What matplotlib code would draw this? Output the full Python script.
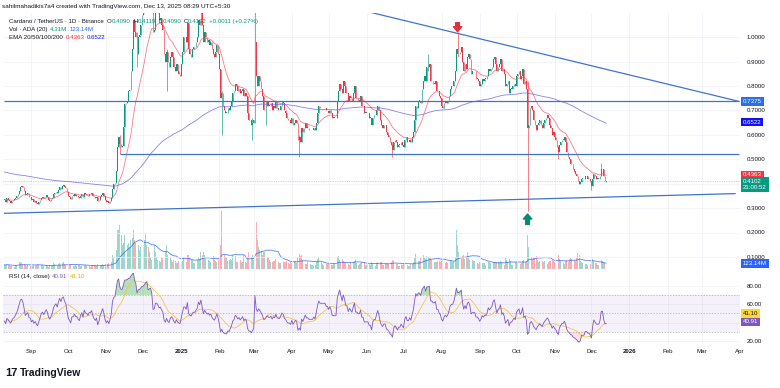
import matplotlib

matplotlib.use("Agg")
import matplotlib.dates as mdates
import matplotlib.pyplot as plt
import numpy as np
import pandas as pd

plt.rcParams["font.family"] = ["Liberation Sans", "DejaVu Sans"]

# daily closes, ADA/USDT (Binance)
c_2024_08 = [0.335, 0.325, 0.340, 0.335, 0.328, 0.322, 0.328, 0.334, 0.336, 0.342, 0.348, 0.358, 0.372, 0.388, 0.392,
             0.386, 0.372, 0.352, 0.356, 0.360, 0.346, 0.344]
c_2024_09 = [0.332, 0.336, 0.326, 0.330, 0.322, 0.316, 0.324, 0.332, 0.342, 0.346, 0.340, 0.346, 0.352, 0.346, 0.334,
             0.330, 0.336, 0.342, 0.356, 0.362, 0.366, 0.360, 0.374, 0.386, 0.380, 0.392, 0.396, 0.388, 0.384, 0.368]
c_2024_10 = [0.350, 0.344, 0.336, 0.350, 0.350, 0.356, 0.350, 0.350, 0.344, 0.340, 0.350, 0.356, 0.346, 0.362, 0.356,
             0.354, 0.350, 0.356, 0.356, 0.360, 0.350, 0.344, 0.340, 0.344, 0.328, 0.334, 0.346, 0.352, 0.360, 0.350,
             0.334]
c_2024_11 = [0.326, 0.330, 0.322, 0.330, 0.342, 0.380, 0.398, 0.402, 0.452, 0.552, 0.592, 0.562, 0.552, 0.556, 0.632,
             0.728, 0.730, 0.740, 0.780, 0.782, 0.860, 0.950, 1.070, 1.020, 1.000, 0.930, 1.000, 1.010, 1.050, 1.090]
c_2024_12 = [1.100, 1.140, 1.200, 1.240, 1.180, 1.200, 1.220, 1.180, 1.020, 1.030, 1.120, 1.120, 1.100, 1.070, 1.080,
             1.050, 1.030, 0.930, 0.900, 0.940, 0.900, 0.880, 0.920, 0.940, 0.920, 0.880, 0.860, 0.890, 0.860, 0.850,
             0.840]
c_2025_01 = [0.890, 0.940, 1.000, 1.000, 0.980, 1.060, 0.950, 0.930, 0.920, 0.950, 0.960, 0.960, 0.980, 1.000, 1.070,
             1.050, 1.110, 1.050, 0.980, 1.020, 1.000, 0.980, 0.990, 0.970, 0.980, 0.950, 0.930, 0.920, 0.940, 0.970,
             0.930]
c_2025_02 = [0.870, 0.750, 0.770, 0.720, 0.700, 0.690, 0.690, 0.710, 0.700, 0.720, 0.740, 0.770, 0.780, 0.810, 0.800,
             0.780, 0.790, 0.770, 0.780, 0.790, 0.760, 0.770, 0.760, 0.690, 0.660, 0.660, 0.640, 0.650]
c_2025_03 = [0.660, 0.980, 0.840, 0.800, 0.840, 0.820, 0.790, 0.760, 0.700, 0.700, 0.720, 0.740, 0.720, 0.720, 0.730,
             0.700, 0.720, 0.710, 0.740, 0.710, 0.700, 0.700, 0.720, 0.740, 0.730, 0.700, 0.690, 0.670, 0.660, 0.660,
             0.650]
c_2025_04 = [0.670, 0.640, 0.650, 0.660, 0.650, 0.580, 0.590, 0.570, 0.630, 0.610, 0.630, 0.650, 0.630, 0.630, 0.620,
             0.620, 0.620, 0.620, 0.630, 0.620, 0.650, 0.690, 0.720, 0.710, 0.710, 0.710, 0.710, 0.710, 0.700, 0.700]
c_2025_05 = [0.690, 0.700, 0.690, 0.670, 0.670, 0.670, 0.670, 0.740, 0.780, 0.810, 0.790, 0.770, 0.820, 0.800, 0.770,
             0.770, 0.740, 0.760, 0.750, 0.740, 0.770, 0.800, 0.750, 0.750, 0.740, 0.740, 0.760, 0.720, 0.720, 0.690,
             0.690]
c_2025_06 = [0.690, 0.690, 0.670, 0.670, 0.640, 0.670, 0.680, 0.680, 0.700, 0.720, 0.700, 0.660, 0.640, 0.630, 0.640,
             0.640, 0.610, 0.600, 0.590, 0.570, 0.560, 0.540, 0.570, 0.580, 0.570, 0.550, 0.560, 0.560, 0.570, 0.560]
c_2025_07 = [0.550, 0.580, 0.590, 0.570, 0.570, 0.580, 0.570, 0.590, 0.610, 0.660, 0.720, 0.710, 0.740, 0.740, 0.730,
             0.790, 0.820, 0.840, 0.820, 0.880, 0.880, 0.890, 0.820, 0.820, 0.810, 0.810, 0.820, 0.780, 0.780, 0.760,
             0.750]
c_2025_08 = [0.720, 0.710, 0.730, 0.740, 0.730, 0.740, 0.760, 0.790, 0.800, 0.800, 0.820, 0.860, 0.950, 0.930, 0.930,
             0.940, 0.960, 0.900, 0.860, 0.890, 0.870, 0.920, 0.930, 0.910, 0.850, 0.860, 0.860, 0.860, 0.830, 0.830,
             0.820]
c_2025_09 = [0.800, 0.810, 0.830, 0.820, 0.830, 0.830, 0.840, 0.870, 0.860, 0.870, 0.880, 0.910, 0.920, 0.890, 0.860,
             0.880, 0.890, 0.910, 0.860, 0.870, 0.850, 0.800, 0.810, 0.820, 0.770, 0.790, 0.790, 0.800, 0.810, 0.800]
c_2025_10 = [0.840, 0.850, 0.860, 0.830, 0.840, 0.870, 0.810, 0.820, 0.790, 0.630, 0.640, 0.710, 0.720, 0.700, 0.660,
             0.640, 0.620, 0.640, 0.650, 0.660, 0.640, 0.630, 0.650, 0.660, 0.670, 0.680, 0.670, 0.640, 0.630, 0.600,
             0.610]
c_2025_11 = [0.590, 0.580, 0.550, 0.530, 0.560, 0.570, 0.580, 0.580, 0.590, 0.570, 0.530, 0.510, 0.500, 0.480, 0.480,
             0.460, 0.450, 0.440, 0.430, 0.410, 0.400, 0.405, 0.420, 0.420, 0.420, 0.430, 0.430, 0.420, 0.420, 0.410]
c_2025_12 = [0.390, 0.420, 0.440, 0.430, 0.420, 0.420, 0.420, 0.430, 0.460, 0.460, 0.430, 0.4091, 0.4102]

# daily volume, millions of ADA
v_2024_08 = [95, 80, 110, 90, 85, 70, 75, 60, 55, 80, 90, 120, 150, 140, 130, 85, 110, 95, 70, 80, 75, 60]
v_2024_09 = [60, 70, 85, 75, 90, 110, 80, 60, 85, 80, 70, 75, 85, 70, 55, 80, 75, 85, 120, 110, 90, 70, 100, 130, 95,
             120, 140, 100, 80, 110]
v_2024_10 = [130, 95, 110, 90, 60, 65, 85, 75, 80, 85, 70, 60, 55, 90, 85, 75, 70, 65, 55, 70, 85, 80, 90, 75, 100, 60,
             70, 90, 110, 95, 100]
v_2024_11 = [110, 100, 130, 120, 140, 300, 250, 200, 400, 800, 800, 900, 700, 500, 550, 700, 500, 500, 550, 450, 600,
             650, 800, 600, 550, 550, 500, 400, 450, 420]
v_2024_12 = [450, 600, 750, 500, 450, 350, 250, 200, 500, 500, 350, 250, 200, 180, 160, 250, 230, 300, 380, 500, 300,
             200, 250, 200, 150, 200, 180, 130, 120, 180, 170]
v_2025_01 = [150, 180, 250, 180, 150, 300, 300, 250, 200, 200, 130, 120, 250, 200, 250, 220, 350, 300, 350, 300, 220,
             180, 200, 170, 140, 130, 280, 200, 180, 160, 200]
v_2025_02 = [250, 500, 1200, 550, 300, 250, 250, 180, 200, 220, 200, 300, 250, 280, 160, 140, 180, 200, 160, 150, 300,
             150, 130, 250, 350, 300, 250, 300]
v_2025_03 = [200, 1290, 980, 600, 450, 400, 380, 300, 350, 350, 300, 250, 230, 200, 150, 140, 180, 170, 220, 200, 150,
             120, 130, 180, 150, 140, 150, 170, 120, 110, 160]
v_2025_04 = [130, 140, 180, 170, 120, 250, 310, 280, 300, 200, 150, 110, 100, 140, 110, 100, 90, 80, 70, 90, 150, 220,
             250, 180, 140, 100, 90, 120, 110, 100]
v_2025_05 = [110, 100, 80, 90, 120, 110, 100, 250, 280, 200, 150, 220, 180, 150, 130, 120, 100, 80, 120, 110, 150, 170,
             200, 120, 90, 100, 120, 140, 130, 150, 90]
v_2025_06 = [80, 100, 110, 90, 150, 120, 80, 70, 120, 140, 130, 150, 160, 90, 80, 120, 130, 120, 110, 150, 140, 200,
             180, 130, 100, 110, 70, 60, 80, 90]
v_2025_07 = [100, 130, 120, 90, 60, 70, 100, 110, 150, 250, 310, 200, 180, 170, 250, 280, 300, 250, 220, 280, 250, 230,
             260, 200, 180, 140, 150, 160, 180, 170, 160]
v_2025_08 = [180, 170, 150, 130, 140, 130, 170, 200, 180, 160, 170, 250, 800, 500, 350, 250, 220, 280, 300, 220, 250,
             350, 250, 200, 250, 200, 170, 180, 160, 120, 100]
v_2025_09 = [140, 130, 120, 130, 120, 90, 80, 150, 140, 130, 120, 150, 160, 140, 150, 140, 160, 180, 150, 110, 90, 230,
             200, 150, 220, 180, 90, 80, 130, 140]
v_2025_10 = [160, 150, 140, 110, 120, 180, 200, 150, 180, 700, 450, 350, 250, 220, 230, 250, 280, 200, 150, 170, 200,
             180, 150, 170, 120, 110, 150, 180, 170, 200, 180]
v_2025_11 = [140, 120, 260, 300, 220, 180, 170, 120, 100, 180, 200, 160, 220, 240, 210, 160, 200, 180, 260, 330, 300,
             180, 140, 130, 120, 110, 100, 90, 80, 100]
v_2025_12 = [160, 220, 180, 130, 130, 90, 80, 140, 200, 170, 150, 120, 4.31]

# notable wicks
wick_dates = ["2024-11-12", "2024-11-26", "2024-12-20", "2025-02-03", "2025-02-28", "2025-03-02", "2025-03-11",
              "2025-04-07", "2025-06-22", "2025-07-21", "2025-08-14", "2025-10-10", "2025-11-04", "2025-12-01",
              "2025-12-09", "2025-12-13"]
wick_highs = [0.60, 1.02, 0.95, 0.78, 0.67, 1.17, 0.74, 0.60, 0.57, 0.93, 1.02, 0.82, 0.56, 0.41, 0.485, 0.4119]
wick_lows = [0.52, 0.88, 0.78, 0.60, 0.58, 0.65, 0.64, 0.51, 0.51, 0.86, 0.92, 0.29, 0.50, 0.374, 0.43, 0.4090]

# drawn lines
trend_down_dates = ["2025-06-01", "2026-03-31"]
trend_down_prices = [1.106, 0.7375]
trend_up_dates = ["2024-08-10", "2026-03-28"]
trend_up_prices = [0.2787, 0.3594]
level_top = 0.7375
level_mid = 0.5205
level_mid_start = "2024-11-12"

ema200_start = 0.449
rsi_seed_gain, rsi_seed_loss = 0.005, 0.007

months = ["Sep", "Oct", "Nov", "Dec", "2025", "Feb", "Mar", "Apr", "May", "Jun", "Jul", "Aug", "Sep", "Oct", "Nov",
          "Dec", "2026", "Feb", "Mar", "Apr"]

closes = np.array(c_2024_08 + c_2024_09 + c_2024_10 + c_2024_11 + c_2024_12 + c_2025_01 + c_2025_02 + c_2025_03
                  + c_2025_04 + c_2025_05 + c_2025_06 + c_2025_07 + c_2025_08 + c_2025_09 + c_2025_10 + c_2025_11
                  + c_2025_12)
volumes = np.array(v_2024_08 + v_2024_09 + v_2024_10 + v_2024_11 + v_2024_12 + v_2025_01 + v_2025_02 + v_2025_03
                   + v_2025_04 + v_2025_05 + v_2025_06 + v_2025_07 + v_2025_08 + v_2025_09 + v_2025_10 + v_2025_11
                   + v_2025_12, dtype=float)
dates = pd.date_range("2024-08-10", "2025-12-13", freq="D")
assert len(closes) == len(dates) == len(volumes), (len(closes), len(dates), len(volumes))

x = mdates.date2num(dates.values)
opens = np.r_[closes[0], closes[:-1]]
opens[-1] = 0.4090
highs = np.maximum(opens, closes)
lows = np.minimum(opens, closes)
for d, h, l in zip(wick_dates, wick_highs, wick_lows):
    i = dates.get_loc(pd.Timestamp(d))
    highs[i] = max(highs[i], h)
    lows[i] = min(lows[i], l)
up = closes >= opens

# indicators
ema20 = np.empty_like(closes)
ema200 = np.empty_like(closes)
e20, e200 = closes[0], ema200_start
for i, c in enumerate(closes):
    e20 += (c - e20) * 2 / 21
    e200 += (c - e200) * 2 / 201
    ema20[i], ema200[i] = e20, e200
rsi = np.empty_like(closes)
ag, al = rsi_seed_gain, rsi_seed_loss
for i, d in enumerate(np.diff(closes, prepend=closes[0])):
    ag = (ag * 13 + max(d, 0)) / 14
    al = (al * 13 + max(-d, 0)) / 14
    rsi[i] = 100 - 100 / (1 + ag / al)
rsi_ma = pd.Series(rsi).rolling(14, min_periods=1).mean().values
vol_ma = pd.Series(volumes).rolling(20, min_periods=1).mean().values

# ---- layout (pixel geometry of the 780x388 screenshot)
W, H = 780, 388
UP, DOWN = "#089981", "#f23645"
TXT = "#131722"
LINE = "#3f74cc"
FS = 4.4


def box(x0, y0, x1, y1):
    return [x0 / W, 1 - y1 / H, (x1 - x0) / W, (y1 - y0) / H]


def put(px, py, s, color=TXT, size=FS, weight="normal"):
    return fig.text(px / W, 1 - py / H, s, color=color, fontsize=size, fontweight=weight, ha="left", va="center")


def put_row(px, py, pieces):
    # pieces: (text, colour, gap after it in px); each starts where the last one ended
    r = fig.canvas.get_renderer()
    for s, color, gap in pieces:
        t = put(px, py, s, color)
        px = t.get_window_extent(r).x1 + gap


def tag(ax, y, s, fc, tc="white"):
    ax.text(1.004, y, s, transform=ax.get_yaxis_transform(), ha="left", va="center", fontsize=FS, color=tc,
            linespacing=1.15, bbox=dict(boxstyle="square,pad=0.3", fc=fc, ec="none"), clip_on=False, zorder=10)


base = mdates.date2num(np.datetime64("2024-09-01"))
xlim = (base + (3 - 31.5) / 1.2305, base + (740 - 31.5) / 1.2305)
p_of = lambda py: 1 - (py - 37.3) / 244

fig = plt.figure(figsize=(W / 100, H / 100), dpi=100)
fig.patch.set_facecolor("white")
ax_vol = fig.add_axes(box(3, 13, 740, 271))
ax = fig.add_axes(box(3, 13, 740, 271))
ax_rsi = fig.add_axes(box(3, 273, 740, 343))
ax.patch.set_alpha(0)

month_ticks = mdates.date2num(pd.date_range("2024-09-01", "2026-04-01", freq="MS").values)
for a in (ax_vol, ax, ax_rsi):
    a.set_xlim(*xlim)
    for s in a.spines.values():
        s.set_visible(False)
    a.set_xticks(month_ticks)
    a.tick_params(length=0, labelsize=FS, labelcolor=TXT)
ax_vol.set_yticks([])
ax_vol.set_xticklabels([])
ax.set_xticklabels([])

# volume (behind)
vmin_px = (271 - 269.3) * 123.14 / 6
ax_vol.set_ylim(-vmin_px, (269.3 - 13) * 123.14 / 6)
ax_vol.bar(x, volumes, width=0.7, color=np.where(up, UP, DOWN), alpha=0.4, linewidth=0)
ax_vol.plot(x, vol_ma, color="#2962ff", lw=0.6, alpha=0.8)

# price pane
ax.set_ylim(p_of(271), p_of(13))
ax.yaxis.tick_right()
pt = np.round(np.arange(0.1, 1.01, 0.1), 1)
ax.set_yticks(pt)
ax.set_yticklabels(["" if abs(v - 0.4) < 1e-9 else f"{v:.4f}" for v in pt])
ax.tick_params(axis="y", pad=5)
ax.grid(True, color="#eef0f4", lw=0.5)
ax.set_axisbelow(True)

ax.vlines(x, lows, highs, colors=np.where(up, UP, DOWN), lw=0.45, zorder=3)
ax.bar(x, np.maximum(np.abs(closes - opens), 0.002), bottom=np.minimum(opens, closes), width=0.65,
       color=np.where(up, UP, DOWN), linewidth=0, zorder=3)
ax.plot(x, ema20, color="#f7525f", lw=0.6, alpha=0.75, zorder=4)
ax.plot(x, ema200, color="#6b63e8", lw=0.6, alpha=0.8, zorder=4)

ax.plot(mdates.date2num(pd.to_datetime(trend_down_dates).values), trend_down_prices, color=LINE, lw=0.9, zorder=5)
ax.plot(mdates.date2num(pd.to_datetime(trend_up_dates).values), trend_up_prices, color=LINE, lw=0.9, zorder=5)
ax.hlines(level_top, x[0], xlim[1], color=LINE, lw=0.9, zorder=5)
ax.hlines(level_mid, mdates.date2num(np.datetime64(level_mid_start)), xlim[1], color=LINE, lw=0.9, zorder=5)
ax.axhline(closes[-1], color=UP, lw=0.5, ls=(0, (1, 1.5)), alpha=0.6, zorder=2)

i_top = dates.get_loc(pd.Timestamp("2025-08-14"))
i_low = dates.get_loc(pd.Timestamp("2025-10-10"))
ax.annotate("", xy=(x[i_top], highs[i_top]), xytext=(0, 7), textcoords="offset points", zorder=6,
            arrowprops=dict(arrowstyle="simple,head_length=0.6,head_width=1.0,tail_width=0.45", color="#e0323e",
                            shrinkA=0, shrinkB=0.5, mutation_scale=6))
ax.annotate("", xy=(x[i_low], lows[i_low]), xytext=(0, -10), textcoords="offset points", zorder=6,
            arrowprops=dict(arrowstyle="simple,head_length=0.6,head_width=1.0,tail_width=0.45", color="#0a8a74",
                            shrinkA=0, shrinkB=2.5, mutation_scale=6))

tag(ax, level_top, f"{level_top:.4f}", "#2f6fe6")
tag(ax, 0.6522, "0.6522", "#1212f0")
tag(ax, 0.4363, "0.4363", "#f23645")
tag(ax, 0.4102 - 0.013, "0.4102\n21:00:52", UP)
ax_vol.text(1.004, 123.14, "123.14M", transform=ax_vol.get_yaxis_transform(), ha="left", va="center", fontsize=FS,
            color="white", bbox=dict(boxstyle="square,pad=0.3", fc="#2962ff", ec="none"), clip_on=False, zorder=10)

# rsi pane
ax_rsi.set_ylim(80 - (343 - 285.7) / 0.925, 80 + (285.7 - 273) / 0.925)
ax_rsi.yaxis.tick_right()
ax_rsi.set_yticks([20, 40, 60, 80])
ax_rsi.set_yticklabels(["20.00", "", "60.00", "80.00"])
ax_rsi.tick_params(axis="y", pad=5)
ax_rsi.tick_params(axis="x", pad=4.5)
ax_rsi.grid(True, color="#eef0f4", lw=0.5)
ax_rsi.set_axisbelow(True)
ax_rsi.axhspan(30, 70, color="#7e57c2", alpha=0.08, lw=0)
for lvl in (70, 50, 30):
    ax_rsi.axhline(lvl, color="#9598a1", lw=0.5, ls=(0, (2, 2)), alpha=0.8)
ax_rsi.fill_between(x, rsi, 70, where=rsi > 70, interpolate=True, color="#4caf50", alpha=0.4, lw=0)
ax_rsi.fill_between(x, rsi, 30, where=rsi < 30, interpolate=True, color="#f23645", alpha=0.15, lw=0)
ax_rsi.plot(x, rsi_ma, color="#f4c64a", lw=0.6)
ax_rsi.plot(x, rsi, color="#7e57c2", lw=0.6)
ax_rsi.set_xticklabels(months)
for lab in ax_rsi.get_xticklabels():
    if lab.get_text().isdigit():
        lab.set_fontweight("bold")
ax_rsi.text(1.004, 50.2, "41.10", transform=ax_rsi.get_yaxis_transform(), ha="left", va="center", fontsize=FS,
            color=TXT, bbox=dict(boxstyle="square,pad=0.3", fc="#fdd835", ec="none"), clip_on=False)
ax_rsi.text(1.004, 40.91, "40.91", transform=ax_rsi.get_yaxis_transform(), ha="left", va="center", fontsize=FS,
            color="white", bbox=dict(boxstyle="square,pad=0.3", fc="#7e57c2", ec="none"), clip_on=False)

# header and legends
put(2, 6.7, "sahilmahadikis7a4 created with TradingView.com, Dec 13, 2025 08:29 UTC+5:30", size=4.6)
put_row(9, 21.5, [("Cardano / TetherUS · 1D · Binance", TXT, 3),
                  ("O", TXT, 0.3), ("0.4090", UP, 2.5), ("H", TXT, 0.3), ("0.4119", UP, 2.5),
                  ("L", TXT, 0.3), ("0.4090", UP, 2.5), ("C", TXT, 0.3), ("0.4102", UP, 2.5),
                  ("+0.0011 (+0.27%)", UP, 0)])
put_row(9, 29.7, [("Vol · ADA (20)", TXT, 2.5), ("4.31M", UP, 2.5), ("123.14M", "#2962ff", 0)])
put_row(9, 37.7, [("EMA 20/50/100/200", TXT, 2.5), ("0.4363", "#f23645", 2.5), ("0.6522", "#1212f0", 0)])
put_row(9, 276.5, [("RSI (14, close)", TXT, 2.5), ("40.91", "#7e57c2", 2.5), ("41.10", "#e0b000", 0)])

put(5, 373, "17", size=8, weight="heavy")
put(20, 373, "TradingView", size=7.5, weight="bold")

fig.savefig("out.png", dpi=100, facecolor="white")
